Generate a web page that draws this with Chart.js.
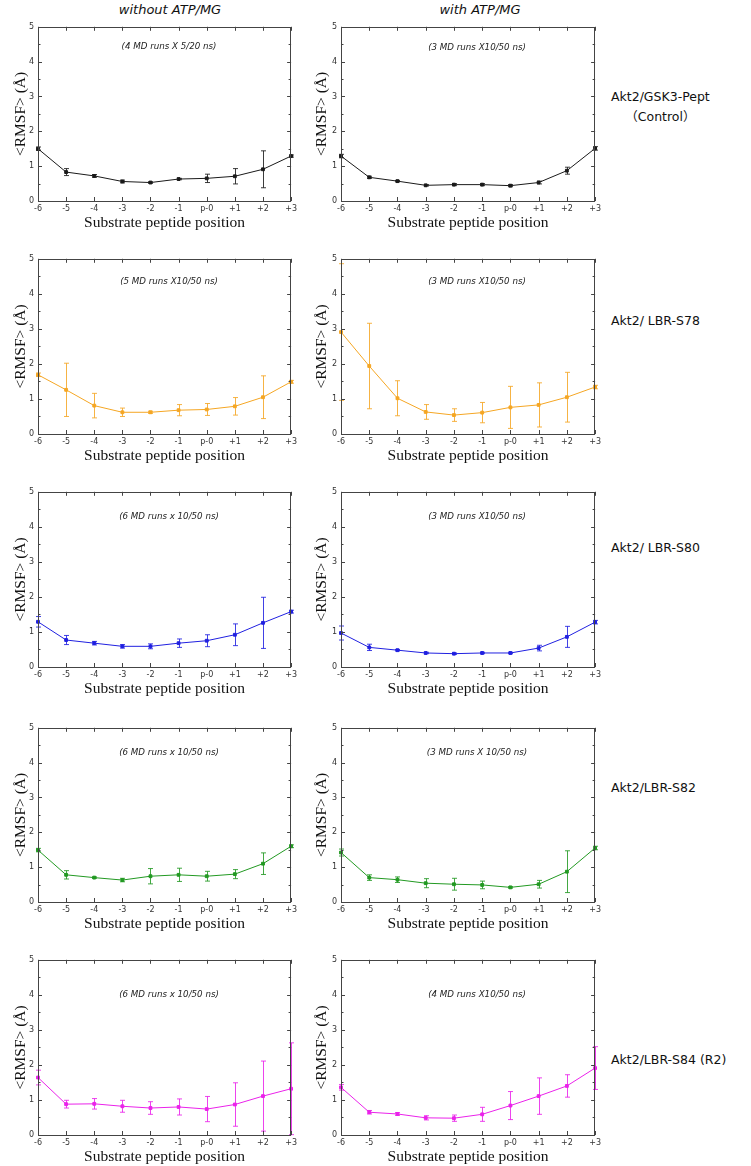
<!DOCTYPE html>
<html>
<head>
<meta charset="utf-8">
<script src="https://cdn.jsdelivr.net/npm/chart.js@4.4.0/dist/chart.umd.min.js"></script>
<style>
  html, body { margin: 0; padding: 0; background: #fff; }
  #page { position: relative; width: 751px; height: 1166px; overflow: hidden; }
  canvas { position: absolute; }
  .lbl { position: absolute; white-space: nowrap; transform: translate(-50%, -50%); color: #111; }
  .head { font: italic 13px "DejaVu Sans", sans-serif; }
  .note { font: italic 8.7px "DejaVu Sans", sans-serif; color: #222; }
  .side { position: absolute; white-space: nowrap; transform: translateY(-50%); font: 12.5px "DejaVu Sans", "Noto Sans CJK SC", sans-serif; color: #111; line-height: 20px; }
</style>
</head>
<body>
<div id="page"></div>
<script>
// substrate peptide positions (x categories)
const positions = ['-6', '-5', '-4', '-3', '-2', '-1', 'p-0', '+1', '+2', '+3'];
const yTicks = [0, 1, 2, 3, 4, 5];

// <RMSF> values and error half-widths
const ctrlNoAtp    = [1.50, 0.83, 0.72, 0.56, 0.53, 0.63, 0.65, 0.71, 0.91, 1.29];
const ctrlNoAtpErr = [0.05, 0.10, 0.04, 0.04, 0.02, 0.02, 0.12, 0.22, 0.53, 0.03];
const ctrlAtp      = [1.29, 0.68, 0.57, 0.45, 0.47, 0.47, 0.44, 0.53, 0.87, 1.51];
const ctrlAtpErr   = [0.05, 0.03, 0.02, 0.02, 0.03, 0.03, 0.03, 0.04, 0.10, 0.05];

const s78NoAtp    = [1.69, 1.26, 0.81, 0.62, 0.62, 0.68, 0.70, 0.79, 1.05, 1.49];
const s78NoAtpErr = [0.05, 0.76, 0.35, 0.12, 0.03, 0.16, 0.17, 0.25, 0.61, 0.04];
const s78Atp      = [2.91, 1.94, 1.02, 0.63, 0.54, 0.61, 0.76, 0.83, 1.05, 1.34];
const s78AtpErr   = [1.95, 1.22, 0.50, 0.21, 0.18, 0.29, 0.60, 0.63, 0.71, 0.05];

const s80NoAtp    = [1.29, 0.77, 0.68, 0.59, 0.59, 0.68, 0.75, 0.92, 1.26, 1.58];
const s80NoAtpErr = [0.15, 0.13, 0.05, 0.05, 0.07, 0.12, 0.17, 0.31, 0.73, 0.04];
const s80Atp      = [0.97, 0.56, 0.48, 0.40, 0.38, 0.40, 0.40, 0.54, 0.86, 1.28];
const s80AtpErr   = [0.20, 0.09, 0.02, 0.02, 0.02, 0.02, 0.02, 0.08, 0.30, 0.05];

const s82NoAtp    = [1.49, 0.78, 0.70, 0.63, 0.74, 0.78, 0.74, 0.80, 1.10, 1.60];
const s82NoAtpErr = [0.05, 0.12, 0.02, 0.05, 0.22, 0.19, 0.14, 0.13, 0.31, 0.04];
const s82Atp      = [1.42, 0.70, 0.64, 0.54, 0.51, 0.49, 0.42, 0.51, 0.87, 1.55];
const s82AtpErr   = [0.10, 0.08, 0.08, 0.13, 0.17, 0.11, 0.02, 0.11, 0.60, 0.05];

const s84NoAtp    = [1.64, 0.88, 0.89, 0.82, 0.77, 0.80, 0.74, 0.87, 1.11, 1.32];
const s84NoAtpErr = [0.21, 0.11, 0.15, 0.17, 0.18, 0.23, 0.36, 0.62, 1.00, 1.31];
const s84Atp      = [1.36, 0.65, 0.60, 0.49, 0.48, 0.59, 0.84, 1.11, 1.40, 1.91];
const s84AtpErr   = [0.08, 0.05, 0.04, 0.06, 0.09, 0.20, 0.40, 0.52, 0.32, 0.61];

const runNotes = [
  '(4 MD runs X 5/20 ns)', '(3 MD runs X10/50 ns)',
  '(5 MD runs X10/50 ns)', '(3 MD runs X10/50 ns)',
  '(6 MD runs x 10/50 ns)', '(3 MD runs X10/50 ns)',
  '(6 MD runs x 10/50 ns)', '(3 MD runs X 10/50 ns)',
  '(6 MD runs x 10/50 ns)', '(4 MD runs X10/50 ns)'
];
const systemLabels = ['Akt2/GSK3-Pept', 'Akt2/ LBR-S78', 'Akt2/ LBR-S80', 'Akt2/LBR-S82', 'Akt2/LBR-S84 (R2)'];

// layout
const rows = [
  { top: 24, bottom: 201, noteY: [46, 47], sideY: 97 },
  { top: 256, bottom: 434, noteY: [281, 281], sideY: 321 },
  { top: 489, bottom: 667, noteY: [516, 516], sideY: 548 },
  { top: 725, bottom: 902, noteY: [752, 752], sideY: 788 },
  { top: 957, bottom: 1135, noteY: [994, 994], sideY: 1060 }
];
const cols = [
  { left: 38, right: 293, noteX: 169, titlePad: 12 },
  { left: 341, right: 597, noteX: 477, titlePad: 10 }
];
const colors = ['#1a1a1a', '#f5a623', '#2020e0', '#229922', '#ea22ea'];
const series = [
  [[ctrlNoAtp, ctrlNoAtpErr], [ctrlAtp, ctrlAtpErr]],
  [[s78NoAtp, s78NoAtpErr], [s78Atp, s78AtpErr]],
  [[s80NoAtp, s80NoAtpErr], [s80Atp, s80AtpErr]],
  [[s82NoAtp, s82NoAtpErr], [s82Atp, s82AtpErr]],
  [[s84NoAtp, s84NoAtpErr], [s84Atp, s84AtpErr]]
];

const Y_AXIS_W = 38, PAD_TOP = 6, PAD_RIGHT = 7, X_AXIS_H = 31;

// error bars from dataset.errors, via the y scale
const errorBars = {
  id: 'errorBars',
  afterDatasetsDraw(chart) {
    const { ctx, scales: { y } } = chart;
    chart.data.datasets.forEach((ds, di) => {
      if (!ds.errors) return;
      const meta = chart.getDatasetMeta(di);
      ctx.save();
      ctx.strokeStyle = ds.borderColor;
      ctx.globalAlpha = 0.85;
      ctx.lineWidth = 1;
      meta.data.forEach((pt, i) => {
        const e = ds.errors[i];
        if (!e) return;
        const x = Math.round(pt.x) + 0.5;
        const y1 = y.getPixelForValue(ds.data[i] + e);
        const y2 = y.getPixelForValue(ds.data[i] - e);
        ctx.beginPath();
        ctx.moveTo(x, y1); ctx.lineTo(x, y2);
        ctx.moveTo(x - 2.5, y1); ctx.lineTo(x + 2.5, y1);
        ctx.moveTo(x - 2.5, y2); ctx.lineTo(x + 2.5, y2);
        ctx.stroke();
      });
      ctx.restore();
    });
  }
};

// gnuplot-like box with inward ticks on all sides
const frame = {
  id: 'frame',
  afterDraw(chart) {
    const { ctx, chartArea: a, scales: { x, y } } = chart;
    ctx.save();
    ctx.strokeStyle = '#444';
    ctx.lineWidth = 1;
    ctx.beginPath();
    x.ticks.forEach((t, i) => {
      const px = Math.round(x.getPixelForTick(i)) + 0.5;
      ctx.moveTo(px, a.bottom); ctx.lineTo(px, a.bottom - 4);
      ctx.moveTo(px, a.top); ctx.lineTo(px, a.top + 4);
    });
    for (let v = 0; v <= 5; v += 0.5) {
      const py = Math.round(y.getPixelForValue(v)) + 0.5;
      const len = v % 1 === 0 ? 4 : 2.5;
      ctx.moveTo(a.left, py); ctx.lineTo(a.left + len, py);
      ctx.moveTo(a.right, py); ctx.lineTo(a.right - len, py);
    }
    ctx.stroke();
    ctx.strokeRect(Math.round(a.left) + 0.5, Math.round(a.top) + 0.5,
      Math.round(a.right - a.left) - 1, Math.round(a.bottom - a.top));
    ctx.restore();
  }
};

const page = document.getElementById('page');

function addLabel(cls, text, x, y) {
  const d = document.createElement('div');
  d.className = cls;
  d.textContent = text;
  d.style.left = x + 'px';
  d.style.top = y + 'px';
  page.appendChild(d);
  return d;
}

addLabel('lbl head', 'without ATP/MG', 170, 9);
addLabel('lbl head', 'with ATP/MG', 480, 9);

rows.forEach((row, r) => {
  cols.forEach((col, c) => {
    const [vals, errs] = series[r][c];
    const plotW = col.right - col.left;
    const plotH = row.bottom - row.top;
    const canvas = document.createElement('canvas');
    canvas.width = Y_AXIS_W + plotW + PAD_RIGHT;
    canvas.height = PAD_TOP + plotH + X_AXIS_H;
    canvas.style.left = (col.left - Y_AXIS_W) + 'px';
    canvas.style.top = (row.top - PAD_TOP) + 'px';
    page.appendChild(canvas);

    new Chart(canvas.getContext('2d'), {
      type: 'line',
      data: {
        labels: positions,
        datasets: [{
          data: vals,
          errors: errs,
          borderColor: colors[r],
          backgroundColor: colors[r],
          borderWidth: 1,
          pointRadius: 2,
          pointStyle: 'rect',
          tension: 0,
          clip: false
        }]
      },
      options: {
        responsive: false,
        animation: false,
        devicePixelRatio: 1,
        layout: { padding: { top: PAD_TOP, right: PAD_RIGHT, left: 0, bottom: 0 } },
        plugins: { legend: { display: false }, tooltip: { enabled: false } },
        scales: {
          x: {
            offset: false,
            grid: { display: false, drawTicks: false },
            border: { display: false },
            ticks: { color: '#333', font: { family: 'DejaVu Sans', size: 8 }, padding: 3, maxRotation: 0, autoSkip: false },
            title: {
              display: true, text: 'Substrate peptide position', color: '#111',
              font: { family: 'Liberation Serif', size: 15.5 }, padding: 0
            },
            afterFit: s => { s.height = X_AXIS_H; }
          },
          y: {
            min: 0, max: 5,
            afterBuildTicks: s => { s.ticks = yTicks.map(v => ({ value: v })); },
            grid: { display: false, drawTicks: false },
            border: { display: false },
            ticks: { color: '#333', font: { family: 'DejaVu Sans', size: 8 }, padding: 4 },
            title: {
              display: true, text: '<RMSF> (Å)', color: '#111',
              font: { family: 'Liberation Serif', size: 15.5 }, padding: { top: col.titlePad, bottom: 0 }
            },
            afterFit: s => { s.width = Y_AXIS_W; }
          }
        }
      },
      plugins: [errorBars, frame]
    });

    addLabel('lbl note', runNotes[r * 2 + c], col.noteX, row.noteY[c]);
  });

  const side = document.createElement('div');
  side.className = 'side';
  side.style.left = '611px';
  side.style.top = (r === 0 ? 107 : row.sideY) + 'px';
  if (r === 0) {
    side.style.textAlign = 'center';
    side.innerHTML = systemLabels[0] + '<br>（Control）';
  } else {
    side.textContent = systemLabels[r];
  }
  page.appendChild(side);
});
</script>
</body>
</html>
